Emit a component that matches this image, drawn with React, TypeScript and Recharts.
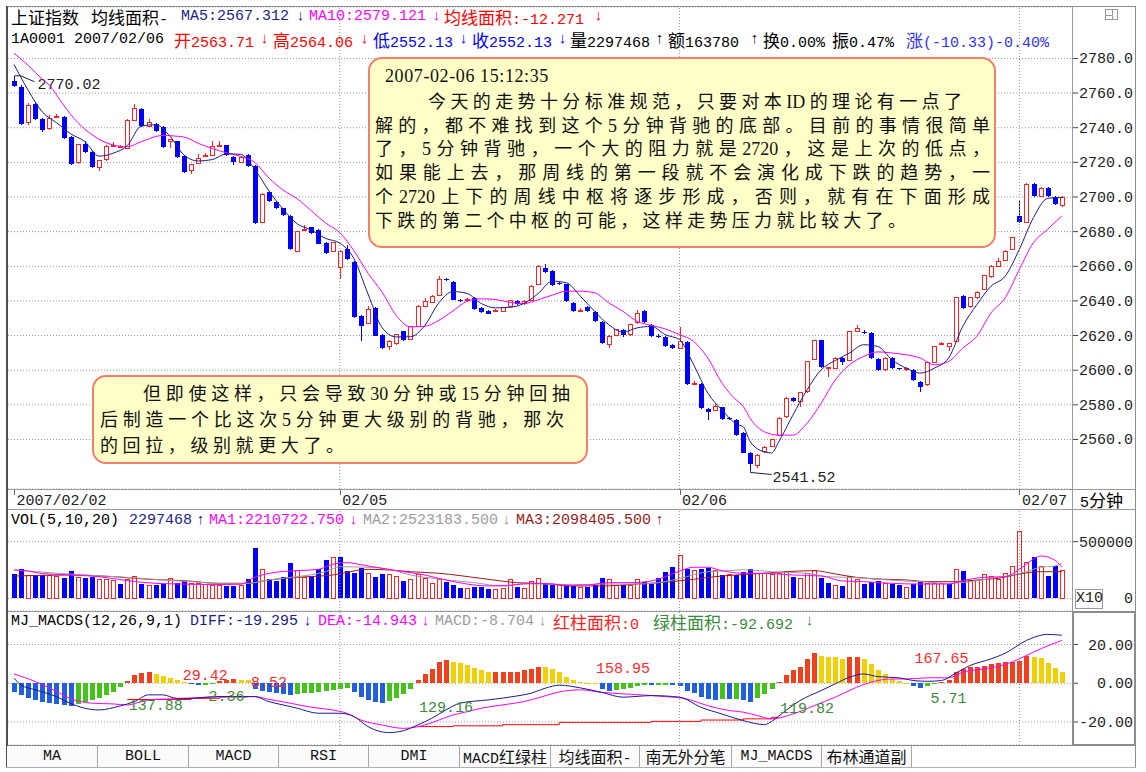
import React from "react";
import { ComposedChart, Bar, Line, XAxis, YAxis, CartesianGrid, ReferenceLine, ReferenceDot } from "recharts";

// ---------- data (index = candle number) ----------
// [open, high, low, close]
const candles: number[][] = [
  [2766.9, 2770.02, 2763.5, 2764.0], [2763.6, 2764.5, 2741.5, 2742.3], [2743.3, 2754.5, 2741.7, 2752.6], [2753.9, 2754.5, 2744.5, 2745.2], [2745.2, 2745.8, 2737.8, 2738.4],
  [2739.4, 2747.1, 2738.8, 2745.2], [2745.8, 2748.2, 2745.5, 2746.4], [2746.2, 2746.8, 2733.5, 2734.0], [2734.6, 2735.0, 2718.6, 2719.1], [2719.7, 2730.6, 2719.2, 2730.1],
  [2730.7, 2732.5, 2725.4, 2725.9], [2725.9, 2726.4, 2716.5, 2717.2], [2717.0, 2721.3, 2715.2, 2720.8], [2721.4, 2729.9, 2721.0, 2729.4], [2729.4, 2732.0, 2729.0, 2730.0],
  [2728.6, 2730.0, 2728.0, 2729.2], [2728.2, 2744.8, 2727.8, 2744.3], [2744.3, 2753.9, 2744.0, 2751.0], [2751.0, 2751.5, 2740.3, 2740.8], [2740.8, 2745.0, 2740.3, 2742.9],
  [2742.3, 2742.8, 2737.5, 2738.0], [2740.4, 2740.9, 2728.3, 2728.8], [2732.0, 2733.5, 2728.2, 2733.0], [2732.1, 2732.6, 2722.5, 2723.0], [2723.6, 2724.1, 2714.1, 2714.6],
  [2715.2, 2719.2, 2713.3, 2718.7], [2719.5, 2724.9, 2719.0, 2722.4], [2723.3, 2725.5, 2723.0, 2723.9], [2724.0, 2732.6, 2723.6, 2729.2], [2729.6, 2732.6, 2729.3, 2730.0],
  [2729.8, 2730.3, 2723.5, 2724.0], [2723.0, 2723.5, 2718.5, 2720.1], [2720.1, 2723.5, 2719.6, 2723.0], [2724.3, 2724.8, 2717.6, 2718.1], [2717.8, 2718.3, 2684.5, 2684.9],
  [2685.3, 2702.2, 2684.8, 2701.7], [2703.0, 2703.5, 2697.3, 2697.8], [2697.2, 2697.7, 2692.9, 2693.4], [2693.4, 2693.9, 2689.0, 2689.5], [2689.1, 2689.6, 2669.3, 2669.8],
  [2668.8, 2680.4, 2668.3, 2679.9], [2680.6, 2683.9, 2680.2, 2681.4], [2682.4, 2682.9, 2678.6, 2679.1], [2680.8, 2681.3, 2672.6, 2673.1], [2673.3, 2673.8, 2667.3, 2667.8],
  [2668.5, 2674.2, 2668.0, 2673.7], [2659.2, 2669.3, 2652.4, 2668.8], [2669.8, 2672.3, 2663.5, 2664.0], [2662.5, 2663.0, 2630.0, 2630.5], [2631.1, 2631.6, 2616.6, 2625.3],
  [2626.9, 2637.3, 2626.4, 2635.0], [2636.0, 2636.5, 2619.5, 2620.0], [2620.5, 2621.0, 2612.3, 2612.8], [2613.6, 2617.3, 2611.4, 2616.8], [2615.3, 2621.0, 2614.8, 2620.5],
  [2622.4, 2622.9, 2616.7, 2617.2], [2618.0, 2625.5, 2617.5, 2625.0], [2625.3, 2637.4, 2624.8, 2636.9], [2636.9, 2641.8, 2636.4, 2639.9], [2639.3, 2643.3, 2638.8, 2642.8],
  [2643.1, 2654.3, 2642.6, 2652.4], [2652.8, 2653.5, 2651.5, 2652.2], [2650.9, 2651.4, 2640.3, 2640.8], [2640.5, 2641.0, 2639.5, 2640.0], [2640.2, 2641.5, 2639.8, 2640.6],
  [2641.8, 2642.3, 2634.9, 2635.4], [2636.0, 2636.5, 2633.0, 2633.5], [2634.1, 2634.6, 2632.2, 2632.7], [2634.2, 2635.3, 2633.8, 2634.7], [2634.1, 2636.5, 2633.6, 2636.0],
  [2636.9, 2640.7, 2636.4, 2640.2], [2639.9, 2640.4, 2637.8, 2638.3], [2638.3, 2640.4, 2637.8, 2639.9], [2640.4, 2649.0, 2639.9, 2648.5], [2649.5, 2660.6, 2649.0, 2660.1],
  [2659.1, 2661.5, 2656.3, 2656.8], [2657.2, 2657.7, 2648.4, 2648.9], [2650.2, 2650.7, 2649.1, 2649.6], [2649.5, 2650.0, 2639.4, 2639.9], [2638.9, 2639.4, 2633.6, 2634.1],
  [2634.0, 2636.0, 2633.5, 2634.6], [2636.6, 2637.1, 2633.6, 2634.1], [2633.5, 2634.0, 2627.8, 2628.3], [2627.7, 2628.2, 2615.2, 2615.7], [2614.7, 2620.1, 2612.8, 2619.6],
  [2620.0, 2623.9, 2619.5, 2623.4], [2623.1, 2623.6, 2619.0, 2620.5], [2620.5, 2626.8, 2619.5, 2626.3], [2627.3, 2634.5, 2626.8, 2632.7], [2634.1, 2634.6, 2627.2, 2627.7],
  [2626.3, 2626.8, 2619.1, 2619.6], [2619.8, 2621.0, 2618.8, 2619.3], [2619.2, 2619.7, 2613.6, 2614.1], [2614.5, 2615.0, 2612.3, 2612.8], [2612.8, 2625.0, 2612.3, 2616.7],
  [2616.1, 2616.6, 2591.6, 2592.1], [2591.9, 2593.5, 2591.4, 2592.4], [2592.1, 2592.6, 2577.5, 2578.0], [2577.4, 2577.9, 2571.2, 2576.0], [2577.0, 2581.0, 2576.5, 2579.0],
  [2578.5, 2579.0, 2571.1, 2571.6], [2572.4, 2573.0, 2571.4, 2572.0], [2571.2, 2571.7, 2562.0, 2562.5], [2563.71, 2564.06, 2552.13, 2552.13], [2552.3, 2552.8, 2541.52, 2545.7],
  [2545.1, 2551.4, 2543.4, 2550.9], [2552.8, 2556.0, 2552.3, 2555.3], [2556.1, 2560.5, 2555.6, 2560.0], [2562.5, 2572.7, 2562.0, 2572.2], [2573.1, 2584.3, 2572.6, 2583.8],
  [2584.2, 2584.7, 2581.7, 2582.2], [2581.9, 2587.6, 2578.5, 2587.1], [2587.6, 2605.5, 2587.1, 2605.0], [2606.4, 2617.7, 2605.9, 2617.2], [2617.2, 2617.7, 2601.2, 2601.7],
  [2600.8, 2602.0, 2596.3, 2601.4], [2601.1, 2607.5, 2600.6, 2607.0], [2607.0, 2607.5, 2603.0, 2605.0], [2605.6, 2622.9, 2605.1, 2622.4], [2622.4, 2626.3, 2621.9, 2623.8],
  [2622.0, 2623.2, 2621.1, 2621.6], [2621.5, 2622.0, 2606.5, 2607.0], [2606.4, 2606.9, 2599.7, 2600.2], [2600.2, 2607.5, 2599.7, 2607.0], [2607.0, 2607.5, 2600.6, 2601.1],
  [2601.0, 2601.5, 2600.1, 2600.6], [2600.6, 2601.6, 2599.8, 2601.0], [2600.2, 2600.7, 2593.9, 2594.4], [2593.4, 2593.9, 2587.6, 2590.5], [2591.5, 2604.9, 2591.0, 2604.4],
  [2604.4, 2614.2, 2603.9, 2613.7], [2614.9, 2616.0, 2614.5, 2615.5], [2613.7, 2615.7, 2611.0, 2615.2], [2616.7, 2642.3, 2616.2, 2641.8], [2643.1, 2643.6, 2635.5, 2636.0],
  [2636.6, 2642.3, 2636.1, 2641.8], [2641.8, 2645.6, 2641.3, 2645.1], [2646.6, 2655.2, 2646.1, 2654.7], [2653.9, 2660.6, 2653.4, 2660.1], [2660.1, 2664.5, 2659.6, 2663.0],
  [2663.6, 2669.5, 2663.1, 2668.8], [2669.8, 2677.0, 2669.3, 2676.5], [2689.1, 2698.4, 2685.2, 2685.7], [2685.3, 2708.0, 2684.8, 2707.5], [2707.5, 2708.0, 2699.9, 2700.4],
  [2700.4, 2705.5, 2699.9, 2705.0], [2705.0, 2705.5, 2700.2, 2700.7], [2699.8, 2700.3, 2695.4, 2695.9], [2695.3, 2700.3, 2694.0, 2699.8],
];

const volumes = [
  2147000, 2559000, 2029000, 2059000, 2059000, 2000000, 1912000, 1824000, 2412000, 1794000,
  1824000, 1853000, 1676000, 1618000, 1529000, 1235000, 1618000, 1912000, 1294000, 1088000,
  1206000, 1235000, 1735000, 1324000, 1529000, 1294000, 1294000, 1176000, 1147000, 1118000,
  1118000, 1118000, 1118000, 1706000, 4412000, 2559000, 1706000, 1529000, 1853000, 3088000,
  2500000, 1853000, 1971000, 2588000, 3382000, 3588000, 3676000, 2412000, 2265000, 2647000,
  2206000, 1912000, 2118000, 2059000, 1912000, 1529000, 1676000, 2118000, 1765000, 1324000,
  1676000, 1412000, 1176000, 941000, 882000, 1029000, 971000, 853000, 794000, 824000,
  1676000, 971000, 882000, 1471000, 1765000, 1324000, 1176000, 1176000, 1176000, 1088000,
  971000, 1029000, 1176000, 1824000, 1618000, 1088000, 1147000, 1147000, 1618000, 1441000,
  1265000, 1765000, 2324000, 2794000, 3794000, 2559000, 2500000, 2559000, 2706000, 2441000,
  2059000, 2059000, 2059000, 2297468, 2559000, 2206000, 2206000, 2059000, 2147000, 2353000,
  1912000, 1765000, 2206000, 2441000, 1765000, 1324000, 1147000, 1088000, 1912000, 1676000,
  1265000, 1471000, 1559000, 1265000, 1265000, 1176000, 971000, 1265000, 1471000, 1265000,
  1265000, 1265000, 1265000, 2559000, 2412000, 1559000, 1559000, 2059000, 1912000, 1618000,
  2206000, 2824000, 5882000, 3147000, 3618000, 2853000, 1971000, 2853000, 2441000,
];

const macdBars = [
  -4.5, -6.0, -7.5, -8.6, -9.5, -10.3, -10.8, -11.2, -11.7,
  -10.5, -9.5, -8.6, -7.6, -6.0, -4.3, -2.0,
  1.2, 4.4, 5.1, 5.6, 4.8, 3.5, 2.7, 1.5, 0.6,
  -0.4, -0.9, -0.7, -0.36,
  1.2, 1.8, 2.0, 1.9, 1.6,
  -3.0, -4.0, -4.5, -5.0, -5.5, -6.2,
  -5.8, -5.3, -4.8, -4.3, -3.8, -3.4, -3.0, -2.6,
  -4.3, -6.9, -8.6, -9.8, -10.4,
  -9.4, -7.8, -5.5, -3.0,
  1.7, 4.8, 7.2, 11.2, 12.1, 11.2, 10.3, 9.5, 7.8, 6.9, 5.8, 5.8, 5.8, 5.8, 5.8, 6.6, 7.4, 8.6, 8.2, 7.4, 5.7, 3.1, 1.7, 0.7, 0.3, 0.1,
  -2.9, -3.8, -3.4, -2.9, -2.4, -1.2, -1.0, -1.1, -1.0, -0.8, -1.0, -1.4, -3.8, -5.2, -6.9, -8.3, -8.6, -8.1, -8.3, -8.0, -8.704, -9.5, -7.8, -5.5, -3.0,
  0.8, 4.0, 6.6, 8.3, 12.6, 15.5, 14.3, 13.8, 13.4, 12.6, 13.8, 13.8, 12.6, 10.0, 6.6, 4.8, 2.2, 1.4, 0.3,
  -1.3, -2.4, -1.4, -0.6,
  0.6, 1.5, 6.0, 7.4, 8.3, 8.6, 9.1, 9.7, 10.3, 10.9, 11.0, 11.6, 14.1, 13.4, 12.9, 10.7, 7.7, 6.0,
];

// line vertices: [candle index, value]
const ma5Points = [
  [0, 2776.5], [2, 2761.6], [4, 2749.1], [6, 2742.9], [8, 2736.5], [10, 2732], [12, 2723.6], [14, 2725.3], [16, 2729.7], [18, 2741],
  [20, 2741.7], [22, 2735.2], [24, 2724.3], [26, 2720.8], [28, 2721.6], [30, 2724.9], [32, 2724.6], [34, 2716], [36, 2703.5], [38, 2693],
  [40, 2684.5], [42, 2680.9], [44, 2676.1], [46, 2673.4], [48, 2664.5], [50, 2644], [52, 2624.5], [54, 2619.2], [56, 2619.3], [58, 2625.7],
  [60, 2638.9], [62, 2645.4], [64, 2644.3], [66, 2638.5], [68, 2636], [70, 2636.3], [72, 2638.5], [74, 2644.1], [76, 2651.4], [78, 2650.5],
  [80, 2642.7], [82, 2634], [84, 2626.3], [86, 2622], [88, 2624.4], [90, 2625.3], [92, 2620.5], [94, 2617.6], [96, 2603.1], [98, 2586.7],
  [100, 2577], [102, 2568.9], [103, 2567.3], [104, 2558.6], [106, 2552.8], [107, 2552.2], [108, 2558.6], [110, 2574], [112, 2588.6], [114, 2600.2],
  [116, 2605.6], [118, 2609.9], [120, 2614.7], [122, 2613.7], [124, 2606], [126, 2601.2], [128, 2598.3], [130, 2601.2], [132, 2607], [134, 2625.3],
  [136, 2637.9], [138, 2648.5], [140, 2654.3], [142, 2669.8], [144, 2688.2], [146, 2699.2], [148, 2699.8],
];
const ma10Points = [
  [0, 2783], [2, 2776], [4, 2768], [5, 2764.5], [7, 2753], [9, 2743], [11, 2736], [14, 2730], [16, 2729], [18, 2732],
  [21, 2735.5], [24, 2734.6], [26, 2731], [28, 2728], [30, 2725.5], [32, 2723.5], [34, 2720], [36, 2711], [38, 2704], [40, 2699],
  [42, 2692], [44, 2685], [46, 2679.5], [48, 2669], [50, 2656], [52, 2645], [54, 2631.5], [56, 2625], [58, 2625.3], [60, 2628.8],
  [62, 2634.2], [64, 2639.8], [66, 2641.2], [68, 2640.8], [70, 2639.2], [72, 2638.5], [74, 2640.6], [76, 2643.3], [78, 2645.6], [80, 2645.6],
  [82, 2644.7], [84, 2638.9], [86, 2634], [88, 2628.2], [90, 2625.9], [92, 2623.8], [94, 2620.5], [96, 2616.6], [98, 2607], [100, 2592.5],
  [102, 2582.8], [103, 2579.1], [104, 2572], [106, 2564.4], [108, 2562.5], [110, 2562.5], [112, 2569.3], [114, 2580.9], [116, 2594.4], [118, 2603.1],
  [120, 2607.9], [122, 2610.6], [124, 2609.9], [126, 2608.9], [128, 2607], [130, 2603.1], [132, 2605], [134, 2612.8], [136, 2619.6], [138, 2633.1],
  [140, 2641.8], [142, 2658.2], [144, 2673.7], [146, 2681.4], [148, 2689.1],
];
// volume averages, in millions of shares
const volMa1Points = [
  [0, 2.5], [2, 2.41], [4, 2.18], [8, 2.06], [12, 1.91], [16, 1.56], [20, 1.32], [24, 1.26], [28, 1.21], [32, 1.24], [34, 1.85], [37, 2.3],
  [40, 2.44], [43, 2.56], [45, 3.0], [47, 3.15], [49, 2.97], [52, 2.65], [55, 2.35], [58, 2.06], [61, 1.62], [64, 1.26], [67, 1.09], [70, 1.15],
  [73, 1.32], [76, 1.26], [78, 1.15], [81, 1.18], [84, 1.38], [87, 1.38], [90, 1.53], [92, 1.91], [94, 2.41], [96, 2.74], [98, 2.74], [100, 2.44],
  [103, 2.21], [106, 2.21], [110, 2.06], [114, 1.97], [117, 1.53], [120, 1.47], [124, 1.32], [128, 1.26], [132, 1.26], [134, 1.56], [137, 1.85],
  [140, 1.91], [142, 2.56], [144, 3.47], [145, 3.74], [147, 3.38], [148, 2.74],
];
const volMa2Points = [
  [0, 2.5], [5, 2.26], [10, 2.06], [16, 1.85], [21, 1.62], [25, 1.47], [29, 1.32], [33, 1.32], [36, 1.62], [40, 1.91], [44, 2.35], [46, 2.79],
  [50, 2.74], [53, 2.56], [56, 2.06], [60, 1.71], [65, 1.38], [69, 1.09], [72, 1.26], [76, 1.26], [79, 1.18], [83, 1.26], [88, 1.26], [92, 1.47],
  [95, 1.91], [98, 2.35], [101, 2.44], [103, 2.52], [104, 2.5], [107, 2.35], [112, 2.21], [115, 1.91], [119, 1.82], [122, 1.68], [125, 1.56],
  [128, 1.47], [132, 1.32], [135, 1.47], [138, 1.76], [141, 2.06], [143, 2.35], [145, 2.74], [147, 2.85], [148, 3.09],
];
const volMa3Points = [
  [0, 1.97], [8, 2.06], [14, 1.91], [19, 1.68], [24, 1.56], [29, 1.32], [33, 1.32], [36, 1.62], [40, 1.85], [45, 2.06], [50, 2.56], [53, 2.5],
  [56, 2.35], [60, 2.21], [66, 1.76], [71, 1.38], [76, 1.26], [78, 1.09], [83, 1.09], [88, 1.26], [93, 1.47], [96, 1.68], [99, 1.91], [103, 2.098],
  [106, 2.21], [109, 2.35], [113, 2.44], [116, 2.15], [119, 1.85], [123, 1.68], [126, 1.62], [129, 1.47], [133, 1.47], [136, 1.62], [139, 1.76],
  [142, 2.15], [145, 2.35], [148, 2.35],
];
const diffPoints = [
  [0, 2.6], [1, -0.9], [3, -3.4], [6, -6.9], [8, -10.5], [12, -13.8], [15, -11.7], [17, -9.5], [19, -6], [21, -6], [23, -7.8], [25, -7.8],
  [29, -6.9], [34, -6.9], [36, -9.5], [38, -11.2], [40, -12.9], [43, -15.5], [46, -15.5], [48, -17.2], [50, -22.4], [53, -25.5], [55, -24.5],
  [57, -21.6], [59, -18.1], [61, -13.8], [63, -10.3], [67, -8.6], [71, -6.6], [73, -5.2], [75, -2.6], [77, -1.0], [80, -2.4], [83, -4.7],
  [86, -7.2], [90, -6.4], [94, -7.2], [97, -12.4], [100, -15.9], [103, -19.295], [106, -21.4], [107, -19.7], [109, -14.1], [111, -9],
  [114, -3.8], [116, -0.3], [118, 3.1], [120, 4.8], [122, 3.4], [125, 2.8], [127, 1.4], [129, 1.0], [131, 1.4], [133, 5.2], [135, 9.1],
  [138, 12.6], [140, 15.5], [143, 22.1], [146, 25.2], [148, 24.8],
];
const deaPoints = [
  [0, 4.8], [3, 0.9], [6, -4.3], [8, -8], [11, -10.3], [14, -10.7], [16, -11.2], [18, -9.5], [20, -8.3], [24, -7.9], [27, -7.2], [30, -6.9],
  [34, -6.9], [36, -8.3], [39, -10.3], [42, -12.4], [45, -13.8], [47, -15.5], [49, -19], [52, -21.6], [55, -23.3], [58, -21.6], [60, -19],
  [62, -16.4], [64, -14.7], [66, -12.9], [69, -11.2], [72, -9.5], [75, -6.5], [77, -4.5], [80, -3.4], [83, -4.7], [88, -5.9], [92, -6.9],
  [95, -8.1], [98, -11.6], [101, -14.1], [103, -14.943], [105, -16.7], [107, -18.4], [110, -15.9], [113, -11.6], [116, -7.2], [119, -2.1],
  [121, 0.5], [124, 2.2], [126, 2.2], [129, 2.8], [132, 2.8], [134, 5.7], [137, 7.4], [140, 9.7], [142, 12.6], [145, 17.8], [148, 22.1],
];
// red reference steps under the DIFF lows: [from, to, level]
const lowLineSteps = [
  [16, 24, -8.4], [25, 28, -7.8], [29, 33, -7.1],
  [57, 61, -22.4], [62, 68, -22.0], [69, 76, -21.4], [77, 89, -20.2], [90, 96, -19.7], [97, 102, -19.0], [103, 106, -18.4], [107, 108, -17.6],
];
const areaLabels = [
  { i: 20, v: -11.2, text: "137.88", up: false }, { i: 27, v: 4.3, text: "29.42", up: true }, { i: 30, v: -6.5, text: "2.36", up: false },
  { i: 36, v: 0.7, text: "8.52", up: true }, { i: 61, v: -12.1, text: "129.16", up: false }, { i: 86, v: 7.9, text: "158.95", up: true },
  { i: 112, v: -12.8, text: "119.82", up: false }, { i: 131, v: 13.1, text: "167.65", up: true }, { i: 132, v: -7.6, text: "5.71", up: false },
];
const peakMarks = [{ i: 0, side: "high" }, { i: 104, side: "low" }];
const dayStarts = [0, 46, 94, 142];
const dayLabels = ["2007/02/02", "02/05", "02/06", "02/07"];
const priceTicks = [2560, 2580, 2600, 2620, 2640, 2660, 2680, 2700, 2720, 2740, 2760, 2780];
const volTicks = [0, 5000000];
const macdTicks = [-20, 0, 20];

const noteALines = [
  "今天的走势十分标准规范，只要对本ID的理论有一点了",
  "解的，都不难找到这个5分钟背驰的底部。目前的事情很简单",
  "了，5分钟背驰，一个大的阻力就是2720，这是上次的低点，",
  "如果能上去，那周线的第一段就不会演化成下跌的趋势，一",
  "个2720上下的周线中枢将逐步形成，否则，就有在下面形成",
  "下跌的第二个中枢的可能，这样走势压力就比较大了。",
];
const noteBLines = [
  "但即使这样，只会导致30分钟或15分钟回抽",
  "后制造一个比这次5分钟更大级别的背驰，那次",
  "的回拉，级别就更大了。",
];
const tabs = ["MA", "BOLL", "MACD", "RSI", "DMI", "MACD红绿柱", "均线面积-", "南无外分笔", "MJ_MACDS", "布林通道副"];

// ---------- build rows ----------
const rows: any[] = candles.map(([o, h, l, c], i) => ({
  i, o, h, l, c,
  range: [l, h],
  vol: volumes[i],
  volUp: i > 0 && c >= candles[i - 1][3],
  macd: macdBars[i],
}));
const put = (key: string, pts: number[][], mul = 1) => pts.forEach(([i, v]) => { rows[i][key] = v * mul; });
put("ma5", ma5Points);
put("ma10", ma10Points);
put("vma1", volMa1Points, 1e6);
put("vma2", volMa2Points, 1e6);
put("vma3", volMa3Points, 1e6);
put("diff", diffPoints);
put("dea", deaPoints);
lowLineSteps.forEach(([a, b, v]) => { for (let k = a; k <= b; k++) rows[k].low = v; });

// ---------- styling ----------
const MONO = "'Liberation Mono','DejaVu Sans Mono','Noto Sans CJK SC',monospace";
const CJKF = "'Noto Sans CJK SC','Noto Sans CJK JP',sans-serif";
const SERIF = "'Liberation Serif','Noto Sans CJK SC',serif";
const UP = "#ff2020";
const DOWN = "#0000ff";
const GRID = "#9a9a9a";
const X_PAD = { left: 2.5, right: 6.6 };
const CHART_MARGIN = { top: 0, right: 0, bottom: 0, left: 8 };

const Candle = (p: any) => {
  const { x, y, width, height, payload } = p;
  if (!payload) return null;
  const { o, h, l, c, i } = payload;
  const k = h > l ? height / (h - l) : 0;
  const py = (v: number) => y + (h - v) * k;
  const cx = Math.round(x + width / 2) + 0.5;
  const up = c > o;
  const col = up ? UP : DOWN;
  const top = py(Math.max(o, c));
  const bh = Math.max(py(Math.min(o, c)) - top, 1);
  const mark = peakMarks.find((m) => m.i === i);
  return (
    <g shapeRendering="crispEdges">
      {up ? (
        <>
          <line x1={cx} x2={cx} y1={py(h)} y2={top} stroke={col} />
          <line x1={cx} x2={cx} y1={top + bh} y2={py(l)} stroke={col} />
          <rect x={cx - 2} y={top} width={4} height={bh} fill="#fff" stroke={col} />
        </>
      ) : (
        <>
          <line x1={cx} x2={cx} y1={py(h)} y2={py(l)} stroke={col} />
          <rect x={cx - 2.5} y={top} width={5} height={bh} fill={col} />
        </>
      )}
      {mark && mark.side === "high" && (
        <g shapeRendering="auto">
          <polyline points={`${cx},${py(h)} ${cx + 6},${py(h)} ${cx + 20},${py(h) + 6}`} fill="none" stroke="#222" />
          <text x={cx + 23} y={py(h) + 13} fontFamily={MONO} fontSize={15} fill="#222">{h.toFixed(2)}</text>
        </g>
      )}
      {mark && mark.side === "low" && (
        <g shapeRendering="auto">
          <polyline points={`${cx},${py(l)} ${cx},${py(l) + 1} ${cx + 21},${py(l) + 3}`} fill="none" stroke="#222" />
          <text x={cx + 22} y={py(l) + 11} fontFamily={MONO} fontSize={15} fill="#222">{l.toFixed(2)}</text>
        </g>
      )}
    </g>
  );
};

const VolBar = (p: any) => {
  const { x, y, width, height, payload } = p;
  if (!payload || !height) return null;
  const top = Math.min(y, y + height);
  const hh = Math.abs(height);
  const cx = Math.round(x + width / 2) + 0.5;
  return payload.volUp ? (
    <rect x={cx - 2} y={top} width={4} height={hh} fill="#fff" stroke={UP} shapeRendering="crispEdges" />
  ) : (
    <rect x={cx - 2.5} y={top} width={5} height={hh} fill={DOWN} shapeRendering="crispEdges" />
  );
};

const MacdBar = (p: any) => {
  const { x, y, width, height, payload } = p;
  if (!payload) return null;
  const v = payload.macd;
  const prev = payload.i > 0 ? macdBars[payload.i - 1] : 0;
  const color = v >= 0 ? (v >= prev ? "#f2401d" : "#f2d000") : v <= prev ? "#1f5fe0" : "#44c41a";
  const top = Math.min(y, y + height);
  const cx = Math.round(x + width / 2);
  return <rect x={cx - 2} y={top} width={5} height={Math.max(Math.abs(height), 1)} fill={color} shapeRendering="crispEdges" />;
};

const axisTick = (fmt: (v: number) => string, dash: (v: number) => boolean) => (p: any) => (
  <g>
    {dash(p.payload.value) && <line x1={1073} x2={1078} y1={p.y} y2={p.y} stroke="#444" />}
    <text x={1133} y={p.y} dy={5} textAnchor="end" fontFamily={MONO} fontSize={15} fill="#222">
      {fmt(p.payload.value)}
    </text>
  </g>
);
const PriceTick = axisTick((v) => v.toFixed(1), () => true);
const VolTick = axisTick((v) => (v / 10).toFixed(0), (v) => v !== 0);
const MacdTick = axisTick((v) => v.toFixed(2), () => true);

const DateTick = (p: any) => {
  const k = dayStarts.indexOf(p.payload.value);
  if (k < 0) return <g />;
  return (
    <g>
      <line x1={Math.round(p.x) + 0.5} x2={Math.round(p.x) + 0.5} y1={482} y2={488} stroke="#666" />
      <text x={p.x + 2.5} y={498} fontFamily={MONO} fontSize={15} fill="#222">{dayLabels[k]}</text>
    </g>
  );
};

const dayLines = dayStarts.slice(1).map((d) => (
  <ReferenceLine key={d} x={d} stroke={GRID} strokeDasharray="1 2" />
));

// ---------- text helpers ----------
const CJK_RE = /([\u2e80-\u9fff\u3000-\u303f\uff00-\uffef]+)/;
const Seg = ({ x, y, text, color = "#000", size = 15, cjk = 17 }: any) => (
  <div style={{ position: "absolute", left: x, top: y - 9, height: 18, lineHeight: "18px", whiteSpace: "nowrap", color, fontSize: size, fontFamily: MONO }}>
    {text.split(CJK_RE).map((s: string, k: number) =>
      CJK_RE.test(s) ? <span key={k} style={{ fontFamily: CJKF, fontSize: cjk, lineHeight: "18px" }}>{s}</span> : <span key={k}>{s}</span>
    )}
  </div>
);
const Rule = ({ x, y, w, h, c = GRID }: any) => (
  <div style={{ position: "absolute", left: x, top: y, width: w, height: h, background: c }} />
);
const NoteLine = ({ x, y, w, text, justify = true, spacing = 0 }: any) => (
  <div
    style={{
      position: "absolute", left: x, top: y - 12, width: w, height: 24, lineHeight: "24px",
      fontFamily: SERIF, fontSize: 18, color: "#111",
      textAlign: justify ? "justify" : "left", textAlignLast: justify ? "justify" : "left",
      letterSpacing: spacing, whiteSpace: justify ? "normal" : "nowrap",
    }}
  >
    {text}
  </div>
);

const NAVY = "#1c1c8c";
const MAG = "#ff00ff";
const GREY = "#9c9c9c";
const DRED = "#9a1a1a";
const GREEN = "#3a8a3a";

const headerTop = [
  { x: 11, t: "上证指数", c: "#000" }, { x: 91, t: "均线面积-", c: "#000" }, { x: 181, t: "MA5:2567.312", c: NAVY }, { x: 296, t: "↓", c: NAVY },
  { x: 309, t: "MA10:2579.121", c: MAG }, { x: 432, t: "↓", c: MAG }, { x: 444, t: "均线面积:-12.271", c: "#ff0000" }, { x: 594, t: "↓", c: "#ff0000" },
];
const headerBottom = [
  { x: 11, t: "1A0001", c: "#000" }, { x: 74, t: "2007/02/06", c: "#000" }, { x: 174, t: "开2563.71", c: "#ff0000" }, { x: 260, t: "↓", c: "#ff0000" },
  { x: 273, t: "高2564.06", c: "#ff0000" }, { x: 360, t: "↓", c: "#ff0000" }, { x: 373, t: "低2552.13", c: "#0000ff" }, { x: 459, t: "↓", c: "#0000ff" },
  { x: 472, t: "收2552.13", c: "#0000ff" }, { x: 558, t: "↓", c: "#0000ff" }, { x: 570, t: "量2297468", c: "#000" }, { x: 655, t: "↑", c: "#000" },
  { x: 668, t: "额163780", c: "#000" }, { x: 750, t: "↑", c: "#000" }, { x: 763, t: "换0.00%", c: "#000" }, { x: 832, t: "振0.47%", c: "#000" },
  { x: 906, t: "涨(-10.33)-0.40%", c: "#3030ff" },
];
const volHeader = [
  { x: 11, t: "VOL(5,10,20)", c: "#000" }, { x: 129, t: "2297468", c: NAVY }, { x: 196, t: "↑", c: NAVY },
  { x: 209, t: "MA1:2210722.750", c: MAG }, { x: 349, t: "↓", c: MAG }, { x: 363, t: "MA2:2523183.500", c: GREY }, { x: 502, t: "↓", c: GREY },
  { x: 516, t: "MA3:2098405.500", c: DRED }, { x: 655, t: "↑", c: DRED },
];
const macdHeader = [
  { x: 11, t: "MJ_MACDS(12,26,9,1)", c: "#000" }, { x: 190, t: "DIFF:-19.295", c: NAVY }, { x: 303, t: "↓", c: NAVY },
  { x: 318, t: "DEA:-14.943", c: MAG }, { x: 421, t: "↓", c: MAG }, { x: 435, t: "MACD:-8.704", c: GREY }, { x: 538, t: "↓", c: GREY },
  { x: 553, t: "红柱面积:0", c: "#ff2020" }, { x: 653, t: "绿柱面积:-92.692", c: GREEN }, { x: 805, t: "↓", c: GREEN },
];
const tabEdges = [7, 98, 189, 279, 369, 460, 551, 640, 732, 822, 912];

export default function App() {
  return (
    <div style={{ position: "absolute", left: 0, top: 0, width: 1146, height: 772, background: "#fff", overflow: "hidden" }}>
      {/* price panel */}
      <div style={{ position: "absolute", left: 0, top: 7 }}>
        <ComposedChart width={1146} height={502} data={rows} margin={CHART_MARGIN}>
          <CartesianGrid vertical={false} stroke={GRID} strokeDasharray="1 2" />
          <XAxis dataKey="i" type="category" height={20} interval={0} tickLine={false} axisLine={false} tick={DateTick} padding={X_PAD} />
          <YAxis orientation="right" width={74} domain={[2531.4, 2809.7]} ticks={priceTicks} interval={0} allowDataOverflow tickLine={false} axisLine={false} tick={PriceTick} />
          {dayLines}
          <Bar dataKey="range" barSize={5} shape={Candle} isAnimationActive={false} />
          <Line dataKey="ma10" type="monotone" stroke={MAG} strokeWidth={1} dot={false} connectNulls isAnimationActive={false} />
          <Line dataKey="ma5" type="monotone" stroke={NAVY} strokeWidth={1} dot={false} connectNulls isAnimationActive={false} />
        </ComposedChart>
      </div>

      {/* volume panel */}
      <div style={{ position: "absolute", left: 0, top: 509 }}>
        <ComposedChart width={1146} height={102} data={rows} margin={CHART_MARGIN}>
          <CartesianGrid vertical={false} stroke={GRID} strokeDasharray="1 2" />
          <XAxis dataKey="i" type="category" hide padding={X_PAD} />
          <YAxis orientation="right" width={74} domain={[-1122000, 7889000]} ticks={volTicks} interval={0} allowDataOverflow tickLine={false} axisLine={false} tick={VolTick} />
          {dayLines}
          <Bar dataKey="vol" barSize={5} shape={VolBar} isAnimationActive={false} />
          <Line dataKey="vma3" type="monotone" stroke={DRED} dot={false} connectNulls isAnimationActive={false} />
          <Line dataKey="vma2" type="monotone" stroke={GREY} dot={false} connectNulls isAnimationActive={false} />
          <Line dataKey="vma1" type="monotone" stroke={MAG} dot={false} connectNulls isAnimationActive={false} />
        </ComposedChart>
      </div>

      {/* MACD panel */}
      <div style={{ position: "absolute", left: 0, top: 611 }}>
        <ComposedChart width={1146} height={134} data={rows} margin={CHART_MARGIN}>
          <CartesianGrid vertical={false} stroke={GRID} strokeDasharray="1 2" />
          <XAxis dataKey="i" type="category" hide padding={X_PAD} />
          <YAxis orientation="right" width={74} domain={[-31.9, 37.3]} ticks={macdTicks} interval={0} allowDataOverflow tickLine={false} axisLine={false} tick={MacdTick} />
          {dayLines}
          <Bar dataKey="macd" barSize={5} shape={MacdBar} isAnimationActive={false} />
          <Line dataKey="low" type="stepAfter" stroke="#ff0000" dot={false} isAnimationActive={false} />
          <Line dataKey="dea" type="monotone" stroke={MAG} dot={false} connectNulls isAnimationActive={false} />
          <Line dataKey="diff" type="monotone" stroke={NAVY} dot={false} connectNulls isAnimationActive={false} />
          {areaLabels.map((a) => (
            <ReferenceDot key={a.text} x={a.i} y={a.v} r={1} fill="none" stroke="none"
              label={{ value: a.text, position: "center", fill: a.up ? "#ff2a2a" : GREEN, fontSize: 15, fontFamily: MONO }} />
          ))}
        </ComposedChart>
      </div>

      {/* headers */}
      {headerTop.map((s, k) => <Seg key={"a" + k} x={s.x} y={17} text={s.t} color={s.c} />)}
      {headerBottom.map((s, k) => <Seg key={"b" + k} x={s.x} y={40} text={s.t} color={s.c} />)}
      {volHeader.map((s, k) => <Seg key={"c" + k} x={s.x} y={521} text={s.t} color={s.c} />)}
      {macdHeader.map((s, k) => <Seg key={"d" + k} x={s.x} y={622} text={s.t} color={s.c} />)}

      {/* callouts */}
      <div style={{ position: "absolute", left: 368, top: 57, width: 628, height: 191, boxSizing: "border-box", background: "#ffffc8", border: "2px solid #f27e6e", borderRadius: 14 }} />
      <NoteLine x={385} y={76} w={200} text="2007-02-06 15:12:35" justify={false} spacing={0.6} />
      {noteALines.map((t, k) => (
        <NoteLine key={t} x={k === 0 ? 428 : 375} y={102 + 23.7 * k} w={k === 0 ? 534 : 615} text={t} justify={k < 5} spacing={k < 5 ? 0 : 4.3} />
      ))}
      <div style={{ position: "absolute", left: 92, top: 375, width: 496, height: 89, boxSizing: "border-box", background: "#ffffc8", border: "2px solid #f27e6e", borderRadius: 14 }} />
      {noteBLines.map((t, k) => (
        <NoteLine key={t} x={k === 0 ? 143 : 100} y={394 + 26 * k} w={k === 0 ? 427 : 464} text={t} justify={k < 2} spacing={k < 2 ? 0 : 4.6} />
      ))}

      {/* right column texts */}
      <Seg x={1080} y={500} text="5分钟" />
      <div style={{ position: "absolute", left: 1075, top: 589, width: 28, height: 20, boxSizing: "border-box", border: "1px solid #9a9a9a", fontFamily: MONO, fontSize: 15, lineHeight: "18px", textAlign: "center", color: "#222", background: "#fff" }}>X10</div>
      <div style={{ position: "absolute", left: 1105, top: 9, width: 13, height: 11, boxSizing: "border-box", border: "1px solid #9a9a9a" }}>
        <div style={{ position: "absolute", left: 6, top: 0, width: 1, height: 9, background: "#9a9a9a" }} />
        <div style={{ position: "absolute", left: 0, top: 5, width: 6, height: 1, background: "#9a9a9a" }} />
      </div>

      {/* frame */}
      <Rule x={6} y={6} w={1130} h={1} c="#8c8c8c" />
      <Rule x={6} y={6} w={2} h={762} c="#505050" />
      <Rule x={1135} y={6} w={1} h={762} c="#8c8c8c" />
      <Rule x={1072} y={6} w={1} h={739} />
      <Rule x={8} y={489} w={1127} h={1} />
      <Rule x={8} y={509} w={1127} h={1} />
      <Rule x={8} y={611} w={1127} h={1} />
      <Rule x={8} y={745} w={1127} h={1} c="#8c8c8c" />
      <Rule x={6} y={767} w={1130} h={1} c="#b0b0b0" />
      <div style={{ position: "absolute", left: 1072, top: 611, width: 64, height: 135, boxSizing: "border-box", border: "2px solid #8c8c8c" }} />

      {/* indicator tabs */}
      {tabs.map((t, k) => (
        <div key={t} style={{ position: "absolute", left: tabEdges[k], top: 746, width: tabEdges[k + 1] - tabEdges[k], height: 21, boxSizing: "border-box", borderRight: "1px solid #a8a8a8", background: "#fbfbfb" }}>
          <div style={{ position: "absolute", left: 0, right: 0, top: 0, height: 21, lineHeight: "21px", textAlign: "center", whiteSpace: "nowrap", fontFamily: MONO, fontSize: 15, color: "#111" }}>
            {t.split(CJK_RE).map((s, j) => (CJK_RE.test(s) ? <span key={j} style={{ fontFamily: CJKF, fontSize: 16 }}>{s}</span> : <span key={j}>{s}</span>))}
          </div>
        </div>
      ))}
    </div>
  );
}
